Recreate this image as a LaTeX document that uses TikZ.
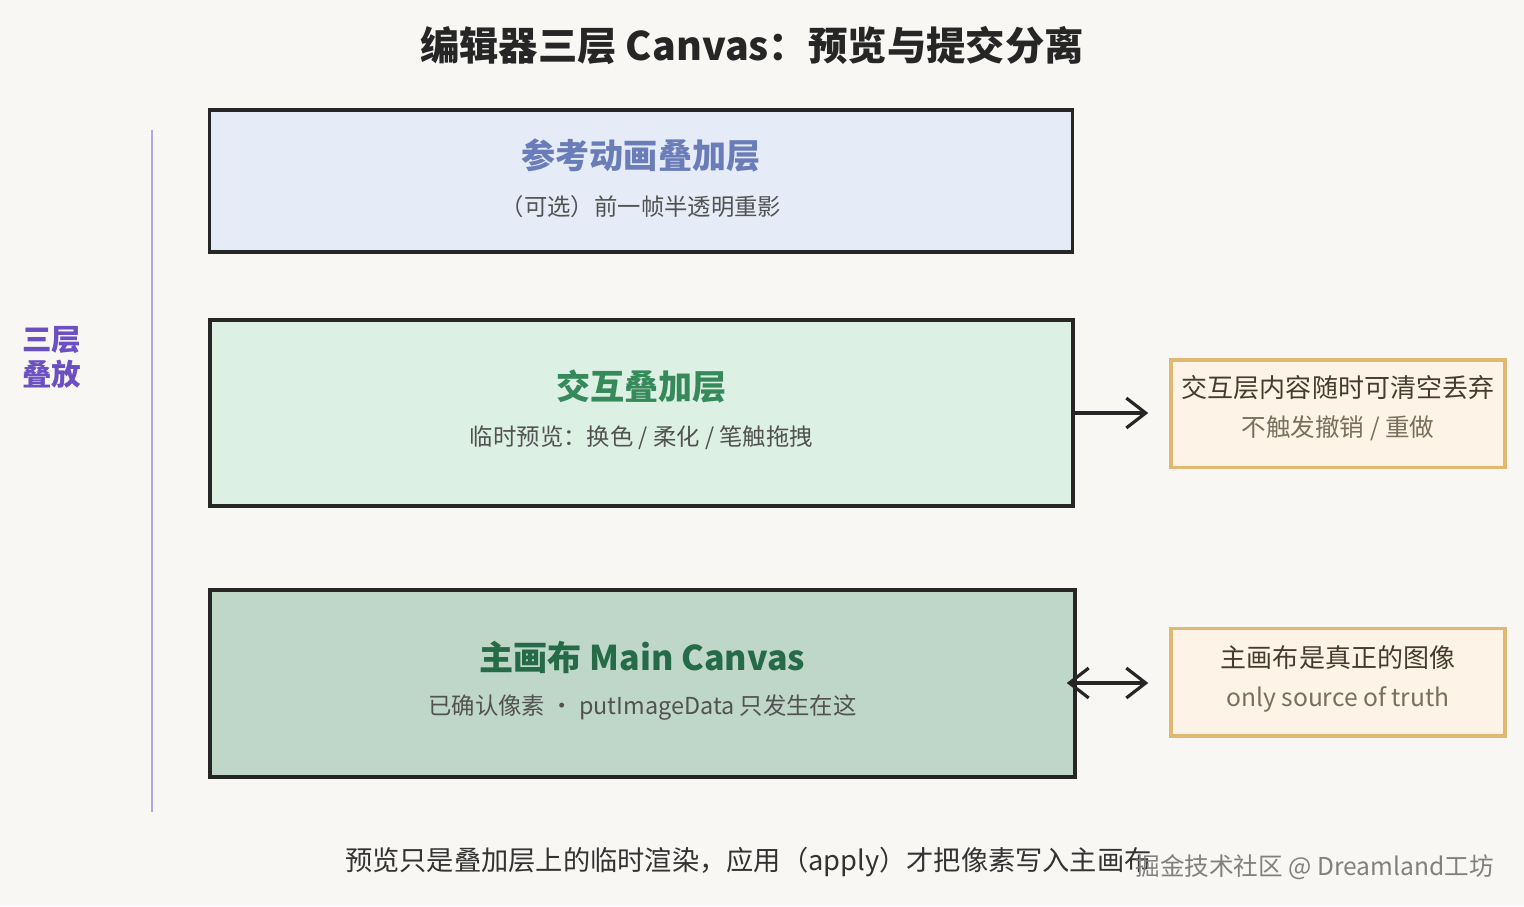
\documentclass[tikz,border=0pt]{standalone}
\usepackage{fontspec}
\setmainfont{Noto Sans CJK SC}
\usepackage{xcolor}
\usetikzlibrary{arrows.meta,positioning}

\definecolor{paper}{HTML}{F8F7F4}
\definecolor{refFill}{HTML}{E6ECF7}
\definecolor{refInk}{HTML}{6A7DB8}
\definecolor{interFill}{HTML}{DDF0E4}
\definecolor{interInk}{HTML}{35895A}
\definecolor{mainFill}{HTML}{BFD7C9}
\definecolor{mainInk}{HTML}{266B47}
\definecolor{noteFill}{HTML}{FDF4E7}
\definecolor{noteLine}{HTML}{E0B872}
\definecolor{noteInk}{HTML}{463C2E}
\definecolor{noteSub}{HTML}{7A6F5C}
\definecolor{stackInk}{HTML}{6C4FC1}
\definecolor{stackLine}{HTML}{B3A8E6}

\begin{document}
\begin{tikzpicture}[
    layer/.style={draw=black!85, line width=2pt, minimum width=17.26cm},
    note/.style={draw=noteLine, fill=noteFill, line width=2pt, minimum width=6.68cm, minimum height=2.15cm},
    ttl/.style={font=\fontsize{19.4}{22}\selectfont\bfseries},
    sub/.style={font=\fontsize{13.3}{16}\selectfont, text=black!68},
    ntl/.style={font=\fontsize{14.8}{17}\selectfont, text=noteInk},
    nsub/.style={font=\fontsize{14}{16}\selectfont, text=noteSub},
    arr/.style={line width=1.8pt, black!85}
]
    % Paper and bounds
    \fill[paper] (0,0) rectangle (30.48,-18.12);
    \useasboundingbox (0,0) rectangle (30.48,-18.12);

    % Title
    \node[font=\fontsize{22.4}{26}\selectfont\bfseries, text=black!85] (title) at (15.04,-0.9)
        {编辑器三层 Canvas：预览与提交分离};

    % Reference onion-skin layer
    \node[layer, fill=refFill, minimum height=2.84cm] (ref) at (12.82,-3.62) {};
    \node[ttl, text=refInk] (refT) at ([yshift=0.52cm]ref.center) {参考动画叠加层};
    \node[sub] (refS) at ([yshift=-0.52cm]ref.center) {（可选）前一帧半透明重影};

    % Interaction layer
    \node[layer, fill=interFill, minimum height=3.72cm] (inter) at (12.83,-8.26) {};
    \node[ttl, text=interInk] (interT) at ([yshift=0.52cm]inter.center) {交互叠加层};
    \node[sub] (interS) at ([yshift=-0.5cm]inter.center) {临时预览：换色 / 柔化 / 笔触拖拽};

    % Main canvas
    \node[layer, fill=mainFill, minimum height=3.74cm, minimum width=17.3cm] (main) at (12.85,-13.67) {};
    \node[ttl, text=mainInk] (mainT) at ([yshift=0.53cm]main.center) {主画布 Main Canvas};
    \node[sub] (mainS) at ([yshift=-0.49cm]main.center) {已确认像素 · putImageData 只发生在这};

    % Side notes
    \node[note] (noteInter) at (26.76,-8.27) {};
    \node[ntl] (noteInterT) at ([yshift=0.51cm]noteInter.center) {交互层内容随时可清空丢弃};
    \node[nsub] (noteInterS) at ([yshift=-0.29cm]noteInter.center) {不触发撤销 / 重做};

    \node[note] (noteMain) at (26.76,-13.64) {};
    \node[ntl] (noteMainT) at ([yshift=0.48cm]noteMain.center) {主画布是真正的图像};
    \node[nsub] (noteMainS) at ([yshift=-0.34cm]noteMain.center) {only source of truth};

    % Arrows to the notes
    \draw[arr, -{Straight Barb[length=11pt,width=17pt]}, shorten >=0.42cm]
        (inter.east) -- (inter.east -| noteInter.west);
    \draw[arr, {Straight Barb[length=11pt,width=17pt]}-{Straight Barb[length=11pt,width=17pt]},
        shorten <=-0.2cm, shorten >=0.42cm]
        ([yshift=0.01cm]main.east) -- ([yshift=0.01cm]main.east -| noteMain.west);

    % Stack marker
    \coordinate (stackTop) at (3.04,-2.6);
    \coordinate (stackBot) at (3.04,-16.24);
    \draw[stackLine, line width=1.3pt] (stackTop) -- (stackBot);
    \node[font=\fontsize{16.8}{20}\selectfont\bfseries, text=stackInk, align=left] (stack) at (1.04,-7.14)
        {三层\\叠放};

    % Caption and watermark
    \node[anchor=west, font=\fontsize{15.5}{18}\selectfont, text=black!80] (caption) at (6.78,-17.24)
        {预览只是叠加层上的临时渲染，应用（apply）才把像素写入主画布};
    \node[anchor=east, font=\fontsize{14}{16}\selectfont, text=black!50] (mark) at (30.0,-17.34)
        {掘金技术社区 @ Dreamland工坊};
\end{tikzpicture}
\end{document}
